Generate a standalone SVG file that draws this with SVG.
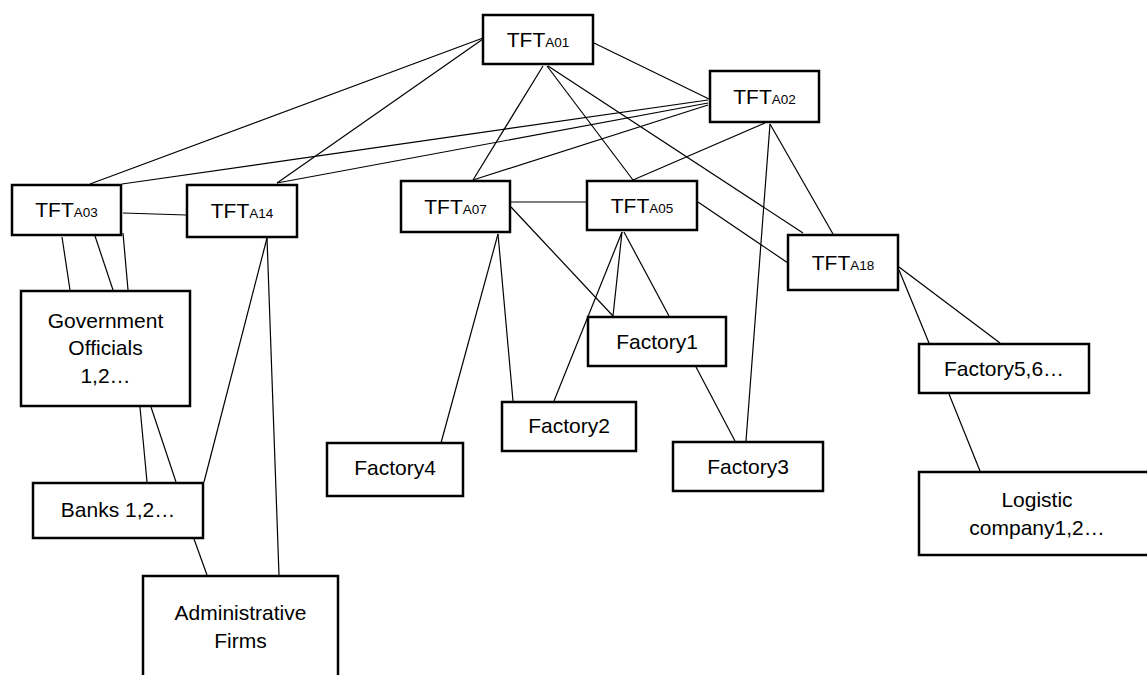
<svg xmlns="http://www.w3.org/2000/svg" width="1147" height="675" viewBox="0 0 1147 675">
<style>
.box{fill:#fff;stroke:#000;stroke-width:2.5}
.lbl{font-family:"Liberation Sans",Arial,sans-serif;font-size:21px;fill:#000;text-anchor:middle}
.sub{font-size:13.5px}
#connectors line{stroke:#000;stroke-width:1.2}
</style>
<rect width="1147" height="675" fill="#fff"/>
<g id="connectors">
<line x1="483" y1="38" x2="90" y2="184"/>
<line x1="483" y1="39" x2="277" y2="183"/>
<line x1="708" y1="100" x2="122" y2="184"/>
<line x1="708" y1="103" x2="277" y2="183"/>
<line x1="708" y1="105" x2="473" y2="180"/>
<line x1="543" y1="66" x2="473" y2="180"/>
<line x1="547" y1="66" x2="633" y2="180"/>
<line x1="548" y1="66" x2="803" y2="233"/>
<line x1="594" y1="43" x2="709" y2="99"/>
<line x1="765" y1="123" x2="633" y2="180"/>
<line x1="770" y1="124" x2="746" y2="441"/>
<line x1="770" y1="124" x2="833" y2="234"/>
<line x1="506" y1="202" x2="587" y2="202"/>
<line x1="698" y1="202" x2="788" y2="263"/>
<line x1="123" y1="213" x2="186" y2="215"/>
<line x1="62" y1="237" x2="70" y2="290"/>
<line x1="95" y1="236" x2="113" y2="290"/>
<line x1="123" y1="233" x2="128" y2="290"/>
<line x1="267" y1="238" x2="204" y2="482"/>
<line x1="267" y1="238" x2="279" y2="575"/>
<line x1="140" y1="407" x2="147" y2="482"/>
<line x1="151" y1="407" x2="176" y2="482"/>
<line x1="194" y1="539" x2="207" y2="575"/>
<line x1="498" y1="234" x2="441" y2="443"/>
<line x1="498" y1="234" x2="513" y2="401"/>
<line x1="511" y1="207" x2="613" y2="316"/>
<line x1="622" y1="232" x2="613" y2="316"/>
<line x1="624" y1="232" x2="669" y2="316"/>
<line x1="622" y1="232" x2="554" y2="401"/>
<line x1="696" y1="367" x2="735" y2="441"/>
<line x1="899" y1="267" x2="1000" y2="343"/>
<line x1="899" y1="270" x2="929" y2="343"/>
<line x1="949" y1="394" x2="980" y2="471"/>
</g>
<g id="tfta01"><rect class="box" x="483" y="15" width="110" height="49"/><text class="lbl" x="538" y="47">TFT<tspan class="sub">A01</tspan></text></g>
<g id="tfta02"><rect class="box" x="710" y="71" width="109" height="51"/><text class="lbl" x="764.5" y="104">TFT<tspan class="sub">A02</tspan></text></g>
<g id="tfta03"><rect class="box" x="12" y="185" width="109" height="50"/><text class="lbl" x="66.5" y="217">TFT<tspan class="sub">A03</tspan></text></g>
<g id="tfta14"><rect class="box" x="187" y="185" width="110" height="52"/><text class="lbl" x="242" y="218">TFT<tspan class="sub">A14</tspan></text></g>
<g id="tfta07"><rect class="box" x="401" y="181" width="109" height="51"/><text class="lbl" x="455.5" y="214">TFT<tspan class="sub">A07</tspan></text></g>
<g id="tfta05"><rect class="box" x="587" y="181" width="110" height="49"/><text class="lbl" x="642" y="213">TFT<tspan class="sub">A05</tspan></text></g>
<g id="tfta18"><rect class="box" x="788" y="235" width="110" height="55"/><text class="lbl" x="843" y="270">TFT<tspan class="sub">A18</tspan></text></g>
<g id="gov"><rect class="box" x="21" y="291" width="169" height="115"/><text class="lbl" x="105.5" y="328">Government</text><text class="lbl" x="105.5" y="355">Officials</text><text class="lbl" x="105.5" y="383">1,2…</text></g>
<g id="banks"><rect class="box" x="33" y="483" width="170" height="55"/><text class="lbl" x="118" y="517">Banks 1,2…</text></g>
<g id="admin"><rect class="box" x="143" y="576" width="195" height="110"/><text class="lbl" x="240.5" y="620">Administrative</text><text class="lbl" x="240.5" y="648">Firms</text></g>
<g id="factory1"><rect class="box" x="588" y="317" width="138" height="49"/><text class="lbl" x="657" y="349">Factory1</text></g>
<g id="factory2"><rect class="box" x="502" y="402" width="134" height="49"/><text class="lbl" x="569" y="433">Factory2</text></g>
<g id="factory3"><rect class="box" x="673" y="442" width="150" height="49"/><text class="lbl" x="748" y="474">Factory3</text></g>
<g id="factory4"><rect class="box" x="327" y="443" width="136" height="53"/><text class="lbl" x="395" y="475">Factory4</text></g>
<g id="factory56"><rect class="box" x="919" y="344" width="170" height="49"/><text class="lbl" x="1004" y="376">Factory5,6…</text></g>
<g id="logistic"><rect class="box" x="919" y="472" width="236" height="83"/><text class="lbl" x="1037" y="507">Logistic</text><text class="lbl" x="1037" y="535">company1,2…</text></g>
</svg>
